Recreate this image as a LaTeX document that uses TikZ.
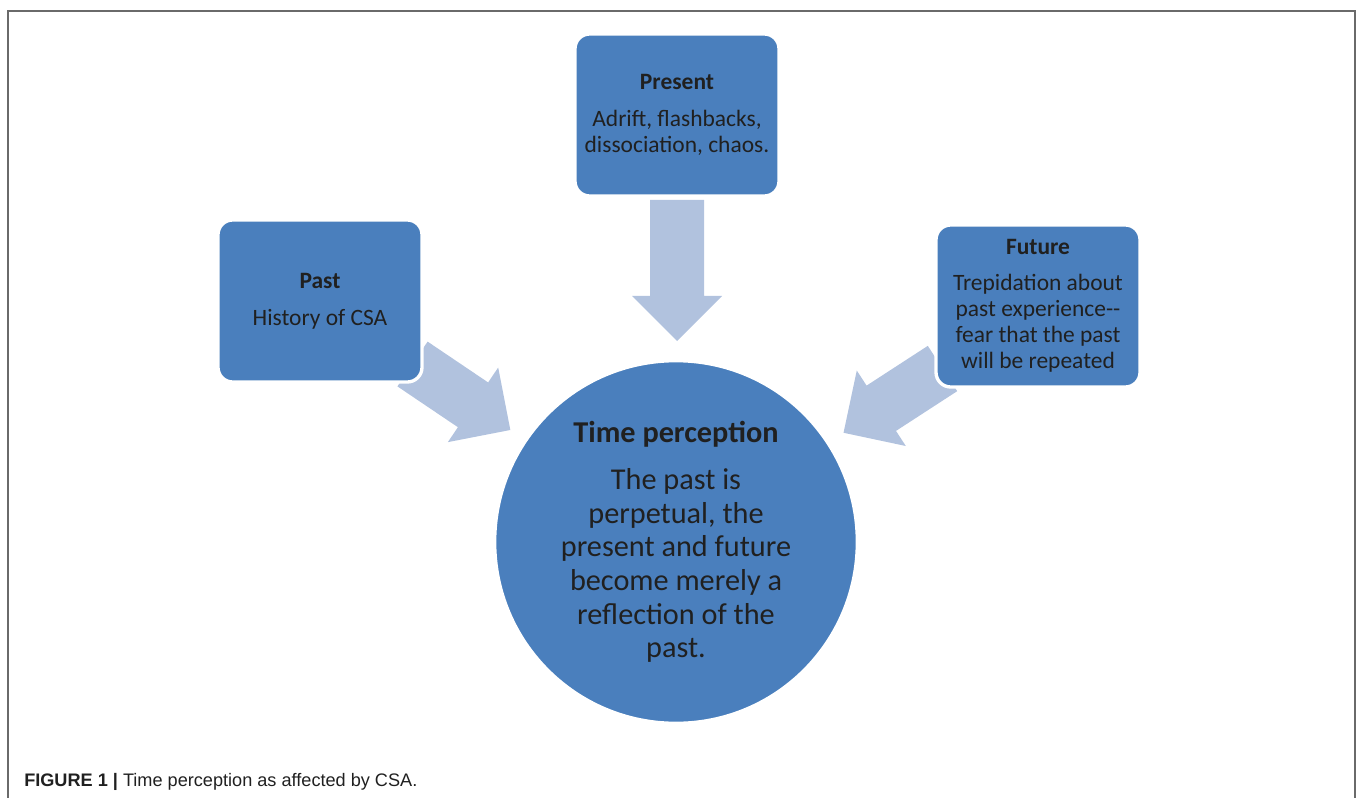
\documentclass[tikz,border=0pt]{standalone}
\usepackage{fontspec}
\setmainfont{Carlito}
\newfontfamily\capfont{Liberation Sans}
\definecolor{boxblue}{HTML}{4A7FBD}
\definecolor{arrowblue}{HTML}{B1C2DE}
\definecolor{txt}{HTML}{202020}
\definecolor{framegray}{HTML}{6A6A6A}
\newcommand{\blockarr}[3]{%
  \fill[arrowfill, shift={#1}, rotate=#2] (0,-27) -- (#3,-27) -- (#3,-45) -- ({#3+45},0) -- (#3,45) -- (#3,27) -- (0,27) -- cycle;}
\begin{document}
\begin{tikzpicture}[x=0.75pt,y=-0.75pt,
  arrowfill/.style={fill=arrowblue},
  stagebox/.style={rectangle, rounded corners=11pt, fill=boxblue, draw=white, line width=2.5pt,
    minimum width=204*0.75pt, minimum height=162*0.75pt, text=txt, align=center, inner sep=2pt,
    font=\fontsize{17.6pt}{19.6pt}\selectfont},
  bigcircle/.style={circle, fill=boxblue, draw=white, line width=2pt, minimum size=362*0.75pt,
    text=txt, align=center, inner sep=0pt, font=\fontsize{22.7pt}{25.2pt}\selectfont},
  frameline/.style={draw=framegray, line width=1.1pt}]
\useasboundingbox (0,0) rectangle (1358,798);
\draw[frameline] (8,798) -- (8,11) -- (1355,11) -- (1355,798);
% block arrows
\blockarr{(677,200)}{-90}{96}
\blockarr{(412.5,364)}{-34}{73}
\blockarr{(942.5,368.5)}{-147}{73}
% boxes
\node[stagebox] (present) at (677,115) {{\bfseries Present}\\[8pt]Adrift, flashbacks,\\dissociation, chaos.};
\node[stagebox] (past) at (320,301) {{\bfseries Past}\\[8pt]History of CSA};
\node[stagebox] (future) at (1038,306) {{\bfseries Future}\\[7pt]Trepidation about\\past experience-{}-\\fear that the past\\will be repeated};
\node[bigcircle] (time) at (676,542) {{\bfseries Time perception}\\[10pt]The past is\\perpetual, the\\present and future\\become merely a\\reflection of the\\past.};
% caption
\node[anchor=base west, inner sep=0pt, text=txt, font=\capfont\fontsize{13.6pt}{15pt}\selectfont] (caption) at (24,786) {\textbf{FIGURE 1 |} Time perception as affected by CSA.};
\end{tikzpicture}
\end{document}
